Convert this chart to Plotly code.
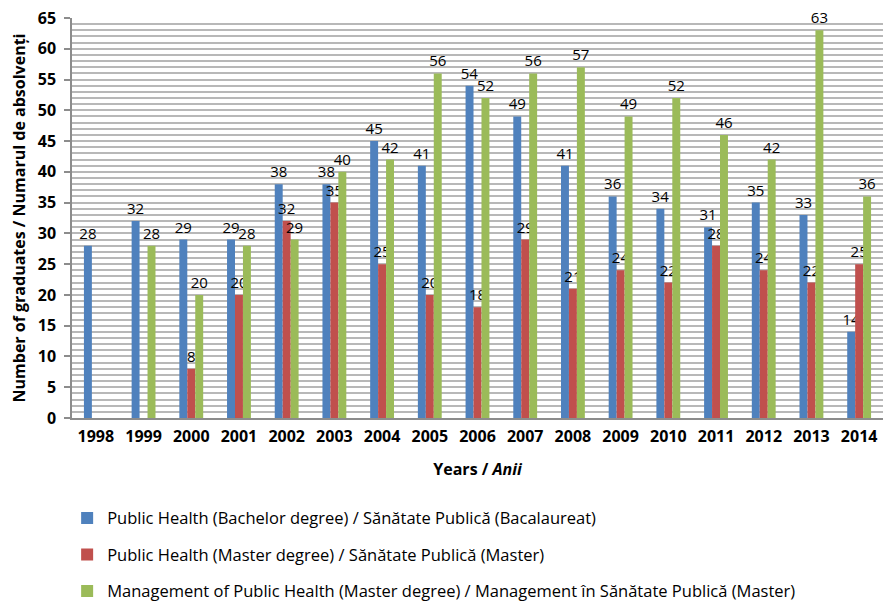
import plotly.graph_objects as go

years = [str(y) for y in range(1998, 2015)]
bachelor = [28, 32, 29, 29, 38, 38, 45, 41, 54, 49, 41, 36, 34, 31, 35, 33, 14]
master = [None, None, 8, 20, 32, 35, 25, 20, 18, 29, 21, 24, 22, 28, 24, 22, 25]
management = [None, 28, 20, 28, 29, 40, 42, 56, 52, 56, 57, 49, 52, 46, 42, 63, 36]

names = [
    "Public Health (Bachelor degree) / Sănătate Publică (Bacalaureat)",
    "Public Health (Master degree) / Sănătate Publică (Master)",
    "Management of Public Health (Master degree) / Management în Sănătate Publică (Master)",
]
colors = ["#4F81BD", "#C0504D", "#9BBB59"]

fig = go.Figure()
for i, (vals, name, col) in enumerate(zip([bachelor, master, management], names, colors)):
    fig.add_trace(go.Bar(
        x=years, y=vals, name=name, marker_color=col, marker_line_width=0,
        text=[("" if v is None else str(v)) for v in vals],
        textposition="outside", cliponaxis=False, constraintext="none",
        textfont=dict(size=15, color="#000000", family="Open Sans"),
        legendgroup=f"g{i}",
    ))

fig.update_layout(
    width=885, height=602,
    margin=dict(l=72, r=2, t=18, b=184, autoexpand=False),
    paper_bgcolor="white", plot_bgcolor="white",
    barmode="group", bargap=0.5, bargroupgap=0,
    font=dict(family="Open Sans", color="#000000"),
    showlegend=True,
    legend=dict(x=-0.006, y=-0.207, xanchor="left", yanchor="top",
                orientation="v", traceorder="grouped", tracegroupgap=12,
                font=dict(size=16.5, color="#000000"), itemwidth=30),
)
fig.update_xaxes(
    type="category", showline=True, linecolor="#8c8c8c", linewidth=2,
    tickfont=dict(size=16, family="Open Sans", color="#000000", weight="bold"),
    ticks="outside", ticklen=3, tickcolor="rgba(0,0,0,0)", showgrid=False,
    title=dict(text="<b>Years / <i>Anii</i></b>", font=dict(size=16), standoff=18),
)
fig.update_yaxes(
    range=[0, 65], dtick=5, tick0=0,
    showgrid=True, gridcolor="#b8b8b8", gridwidth=2,
    minor=dict(dtick=1, showgrid=True, gridcolor="#b8b8b8", gridwidth=2),
    showline=True, linecolor="#8c8c8c", linewidth=1.5,
    ticks="outside", ticklen=6, tickcolor="#8c8c8c", tickwidth=1.5,
    ticklabelstandoff=5,
    tickfont=dict(size=16, family="Open Sans", color="#000000", weight="bold"),
    zeroline=False,
    title=dict(text="<b>Number of graduates / Numarul de absolvenți</b>", font=dict(size=16), standoff=8),
)

fig.write_html("out.html", config={"displayModeBar": False},
               post_script="document.body.style.margin='0';")
